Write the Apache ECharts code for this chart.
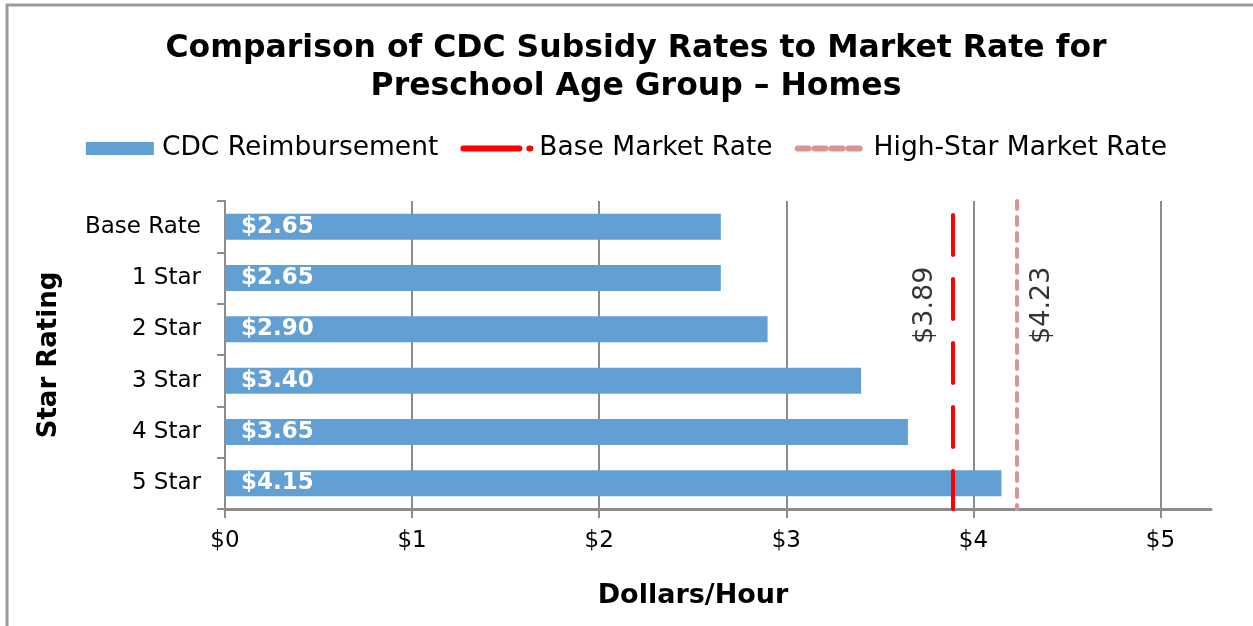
<!DOCTYPE html>
<html>
<head>
<meta charset="utf-8">
<script src="https://cdn.jsdelivr.net/npm/echarts@6/dist/echarts.min.js"></script>
<style>
  html, body { margin: 0; padding: 0; background: #fff; }
  #main { width: 1253px; height: 626px; }
</style>
</head>
<body>
<div id="main"></div>
<script>
// data
var categories = ['Base Rate', '1 Star', '2 Star', '3 Star', '4 Star', '5 Star'];
var cdcValues = [2.65, 2.65, 2.90, 3.40, 3.65, 4.15];
var baseMarketRate = 3.89;
var highStarMarketRate = 4.23;
var xTicks = [0, 1, 2, 3, 4, 5];
// the rate labels sit beside the lines, around the "2 Star" row
var rateLabelRow = '2 Star';

var FONT = 'DejaVu Sans';
var GRAY = '#8c8c8c';
var RED = '#ff0000';
var PINK = '#d99594';

var myChart = echarts.init(document.getElementById('main'));

function money(v) { return '$' + v.toFixed(2); }

var option = {
  animation: false,
  textStyle: { fontFamily: FONT, color: '#000' },
  title: {
    text: 'Comparison of CDC Subsidy Rates to Market Rate for\nPreschool Age Group \u2013 Homes',
    left: 631,
    textAlign: 'center',
    top: 25,
    textStyle: { fontFamily: FONT, fontSize: 31.5, fontWeight: 'bold', lineHeight: 38, color: '#000' }
  },
  legend: {
    top: 130,
    left: 'center',
    itemGap: 22,
    itemWidth: 68,
    itemHeight: 13,
    textStyle: { fontFamily: FONT, fontSize: 26.5, color: '#000', padding: [0, 0, 0, 3] },
    data: [
      { name: 'CDC Reimbursement', icon: 'rect' },
      {
        name: 'Base Market Rate',
        itemStyle: { opacity: 0 },
        lineStyle: { color: RED, width: 6, type: [56, 10, 1, 20], cap: 'round' }
      },
      {
        name: 'High-Star Market Rate',
        itemStyle: { opacity: 0 },
        lineStyle: { color: PINK, width: 6, type: [11, 6], cap: 'round' }
      }
    ]
  },
  grid: { left: 225, right: 42, top: 201, bottom: 117 },
  xAxis: {
    type: 'value',
    min: 0,
    max: 5.27,
    interval: 1,
    name: 'Dollars/Hour',
    nameLocation: 'middle',
    nameGap: 73,
    nameTextStyle: { fontFamily: FONT, fontSize: 27, fontWeight: 'bold', color: '#000', padding: [0, 50, 0, 0] },
    axisLine: { show: true, lineStyle: { color: GRAY, width: 3 } },
    axisTick: { show: true, length: 9, lineStyle: { color: GRAY, width: 2 }, customValues: xTicks },
    axisLabel: {
      customValues: xTicks,
      margin: 21,
      fontSize: 23,
      color: '#000',
      formatter: function (v) { return '$' + v; }
    },
    splitLine: { show: true, lineStyle: { color: GRAY, width: 2 } }
  },
  yAxis: {
    type: 'category',
    inverse: true,
    data: categories,
    name: 'Star Rating',
    nameLocation: 'middle',
    nameGap: 163,
    nameRotate: 90,
    nameTextStyle: { fontFamily: FONT, fontSize: 26, fontWeight: 'bold', color: '#000' },
    axisLine: { show: true, lineStyle: { color: GRAY, width: 2 } },
    axisTick: { show: true, length: 8, lineStyle: { color: GRAY, width: 2 } },
    axisLabel: { fontSize: 23, color: '#000', margin: 24 }
  },
  series: [
    {
      name: 'CDC Reimbursement',
      type: 'bar',
      data: cdcValues,
      barWidth: 26,
      itemStyle: { color: '#629fd3' },
      label: {
        show: true,
        position: 'insideLeft',
        distance: 16,
        color: '#fff',
        fontFamily: FONT,
        fontWeight: 'bold',
        fontSize: 23,
        formatter: function (p) { return money(p.value); }
      },
      z: 2
    },
    {
      name: 'Base Market Rate',
      type: 'line',
      data: [],
      symbol: 'none',
      lineStyle: { color: RED, width: 4 },
      itemStyle: { color: RED },
      z: 5,
      markLine: {
        silent: true,
        symbol: 'none',
        lineStyle: { color: RED, width: 4, type: [40, 24], cap: 'round', dashOffset: -14 },
        label: { show: false },
        data: [{ xAxis: baseMarketRate }]
      }
    },
    {
      name: 'High-Star Market Rate',
      type: 'line',
      data: [],
      symbol: 'none',
      lineStyle: { color: PINK, width: 4 },
      itemStyle: { color: PINK },
      z: 5,
      markLine: {
        silent: true,
        symbol: 'none',
        lineStyle: { color: PINK, width: 4, type: [8, 8], cap: 'round' },
        label: { show: false },
        data: [{ xAxis: highStarMarketRate }]
      }
    },
    {
      // rotated value labels beside the two rate lines
      name: 'rateLabels',
      type: 'scatter',
      silent: true,
      symbolSize: 0,
      z: 6,
      data: [
        { value: [baseMarketRate, rateLabelRow], label: { position: [-28, -24] } },
        { value: [highStarMarketRate, rateLabelRow], label: { position: [26, -24] } }
      ],
      label: {
        show: true,
        rotate: 90,
        align: 'center',
        verticalAlign: 'middle',
        fontFamily: FONT,
        fontSize: 27,
        color: '#000',
        formatter: function (p) { return money(p.value[0]); }
      }
    }
  ],
  graphic: [
    {
      type: 'rect',
      silent: true,
      shape: { x: 7, y: 5, width: 1260, height: 640 },
      style: { fill: 'none', stroke: '#9a9a9a', lineWidth: 3 }
    }
  ]
};

myChart.setOption(option);
</script>
</body>
</html>
